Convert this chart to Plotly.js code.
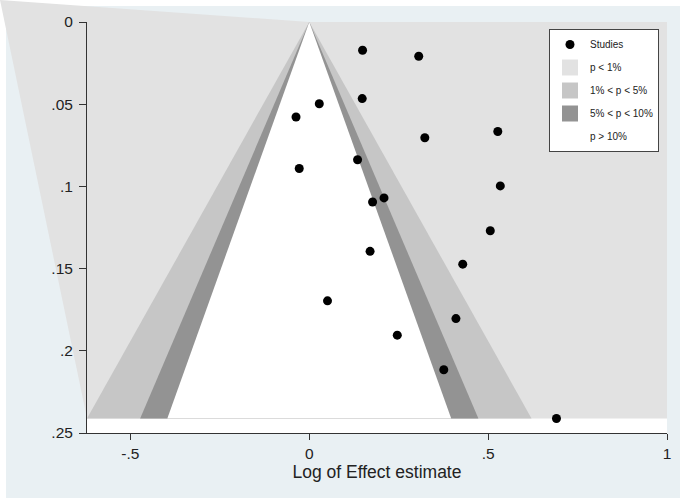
<!DOCTYPE html>
<html><head><meta charset="utf-8">
<script src="https://cdn.plot.ly/plotly-3.0.1.min.js"></script>
<style>html,body{margin:0;padding:0;background:#fff}</style>
</head><body><div id="chart" style="width:685px;height:500px"></div>
<script>
// Study estimates (log effect) and their standard errors
const effect = [0.149, 0.306, 0.148, 0.028, -0.037, 0.527, 0.323, 0.135, -0.028, 0.534,
                0.209, 0.177, 0.506, 0.170, 0.429, 0.051, 0.410, 0.246, 0.376, 0.691];
const stdErr = [0.0172, 0.0208, 0.0466, 0.0497, 0.0578, 0.0666, 0.0704, 0.0838, 0.0891, 0.0997,
                0.107, 0.1095, 0.127, 0.1395, 0.1473, 0.1696, 0.1804, 0.1905, 0.2115, 0.2412];
// significance contour critical values (1%, 5%, 10%)
const zCrit = [2.576, 1.96, 1.645];
const contourLabels = ["p < 1%", "1% < p < 5%", "5% < p < 10%", "p > 10%"];
const xTickVals = [-0.5, 0, 0.5, 1];
const xTickText = ["-.5", "0", ".5", "1"];
const yTickVals = [0, 0.05, 0.1, 0.15, 0.2, 0.25];
const yTickText = ["0", ".05", ".1", ".15", ".2", ".25"];
const xMax = 1, yMax = 0.25;

// styles
const FONT = "'Liberation Sans', Arial, Helvetica, sans-serif";
const regionColors = ["#e2e2e2", "#c6c6c6", "#939393", "#ffffff"];
const outerBg = "#e9f0f3";

const maxSE = Math.max(...stdErr);
const xMin = -zCrit[0] * maxSE;

const traces = [];
// p < 1% : whole shaded rectangle
traces.push({x: [xMin, xMax, xMax, xMin], y: [0, 0, maxSE, maxSE], mode: 'none', fill: 'toself',
  fillcolor: regionColors[0], showlegend: false, hoverinfo: 'skip'});
// funnels
zCrit.forEach((z, i) => {
  traces.push({x: [-z * maxSE, 0, z * maxSE], y: [maxSE, 0, maxSE], mode: 'none', fill: 'toself',
    fillcolor: regionColors[i + 1], showlegend: false, hoverinfo: 'skip'});
});
// legend-only swatches
contourLabels.forEach((lab, i) => {
  traces.push({x: [null], y: [null], mode: 'markers', name: lab, legendgroup: 'g' + i, legendrank: 10 + i,
    marker: {symbol: 'square', size: 18, color: regionColors[i], line: {width: 0}}, hoverinfo: 'skip'});
});
// studies
traces.push({x: effect, y: stdErr, mode: 'markers', name: 'Studies', legendgroup: 'studies', legendrank: 1,
  marker: {symbol: 'circle', size: 9, color: '#000'}, cliponaxis: false});

// px -> paper helpers
const W = 685, H = 500, mL = 87, mR = 18, mT = 22, mB = 67;
const pw = W - mL - mR, ph = H - mT - mB;
const px2x = p => (p - mL) / pw;
const px2y = p => (H - mB - p) / ph;
const apexX = (0 - xMin) / (xMax - xMin);
const seY = 1 - maxSE / yMax;

const layout = {
  width: W, height: H,
  margin: {l: mL, r: mR, t: mT, b: mB, pad: 0},
  paper_bgcolor: '#ffffff', plot_bgcolor: '#ffffff',
  font: {family: FONT, color: '#222'},
  showlegend: true,
  xaxis: {range: [xMin, xMax], tickvals: xTickVals, ticktext: xTickText, showgrid: false, zeroline: false,
    showline: true, linecolor: '#333', linewidth: 1, ticks: 'outside', ticklen: 6, tickcolor: '#333',
    tickfont: {size: 15.5, color: '#222'}, title: {text: 'Log of Effect estimate', font: {size: 17.5, color: '#222'}, standoff: 0}},
  yaxis: {range: [yMax, 0], tickvals: yTickVals, ticktext: yTickText, showgrid: false, zeroline: false,
    showline: true, linecolor: '#333', linewidth: 1, ticks: 'outside', ticklen: 7, tickcolor: '#333',
    ticklabelstandoff: 3, tickfont: {size: 15.5, color: '#222'}},
  legend: {x: px2x(549), y: px2y(29), xanchor: 'left', yanchor: 'top', bgcolor: '#fff', bordercolor: '#444',
    borderwidth: 1, font: {family: FONT, size: 10, color: '#222'}, tracegroupgap: 4, traceorder: 'grouped'},
  shapes: [
    {type: 'rect', xref: 'paper', yref: 'paper', x0: px2x(6), x1: px2x(680), y0: px2y(498), y1: px2y(6),
      fillcolor: outerBg, line: {width: 0}, layer: 'below'},
    {type: 'rect', xref: 'paper', yref: 'paper', x0: 0, x1: 1, y0: 0, y1: 1,
      fillcolor: '#ffffff', line: {width: 0}, layer: 'below'},
    {type: 'path', xref: 'paper', yref: 'paper', layer: 'below', fillcolor: regionColors[0], line: {width: 0},
      path: `M ${px2x(0)} ${px2y(0)} L ${apexX} 1 L 0 1 L 0 ${seY} Z`}
  ]
};
Plotly.newPlot('chart', traces, layout, {displayModeBar: false, staticPlot: true});
</script></body></html>
